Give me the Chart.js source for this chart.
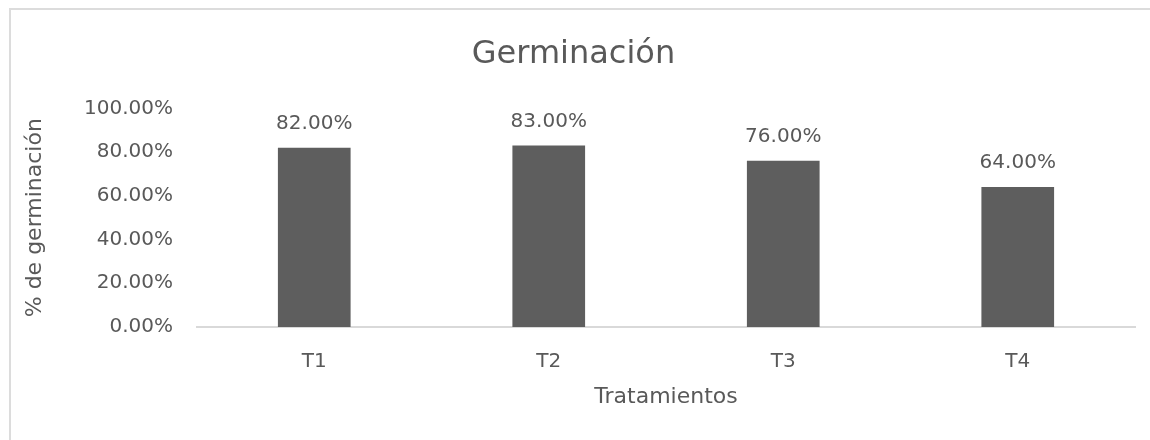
<!DOCTYPE html>
<html>
<head>
<meta charset="utf-8">
<script src="https://cdn.jsdelivr.net/npm/chart.js@4.4.0/dist/chart.umd.min.js"></script>
<style>
  html, body { margin: 0; padding: 0; background: #fff; overflow: hidden; }
  canvas { display: block; }
</style>
</head>
<body>
<canvas id="c" width="1150" height="440"></canvas>
<script>
const categories = ['T1', 'T2', 'T3', 'T4'];
const germinacion = [0.82, 0.83, 0.76, 0.64];
const yTicks = [0, 0.2, 0.4, 0.6, 0.8, 1.0];

const FONT = "'DejaVu Sans', sans-serif";
const TXT = '#595959';
const fmt = v => (v * 100).toFixed(2) + '%';

const frame = {
  id: 'frame',
  beforeDraw(chart) {
    const ctx = chart.ctx;
    ctx.save();
    ctx.fillStyle = '#ffffff';
    ctx.fillRect(0, 0, chart.width, chart.height);
    ctx.strokeStyle = '#dcdcdc';
    ctx.lineWidth = 2;
    ctx.strokeRect(10, 9, chart.width + 100, chart.height + 100);
    ctx.restore();
  }
};

const valueLabels = {
  id: 'valueLabels',
  afterDatasetsDraw(chart) {
    const ctx = chart.ctx;
    const meta = chart.getDatasetMeta(0);
    ctx.save();
    ctx.font = '20px ' + FONT;
    ctx.fillStyle = TXT;
    ctx.textAlign = 'center';
    ctx.textBaseline = 'middle';
    meta.data.forEach((bar, i) => {
      ctx.fillText(fmt(germinacion[i]), bar.x, bar.y - 24);
    });
    ctx.restore();
  }
};

new Chart(document.getElementById('c'), {
  type: 'bar',
  data: {
    labels: categories,
    datasets: [{
      label: 'Germinación',
      data: germinacion,
      backgroundColor: '#5e5e5e',
      borderWidth: 0,
      barPercentage: 0.31,
      categoryPercentage: 1.0
    }]
  },
  options: {
    responsive: false,
    animation: false,
    devicePixelRatio: 1,
    layout: { padding: { left: 12, right: 15, top: 0, bottom: 28 } },
    plugins: {
      legend: { display: false },
      tooltip: { enabled: false },
      title: {
        display: true,
        text: 'Germinación',
        color: TXT,
        font: { family: FONT, size: 32, weight: 'normal' },
        padding: { top: 35, bottom: 35 }
      }
    },
    scales: {
      x: {
        grid: { display: false, drawTicks: false },
        border: { display: true, color: '#d9d9d9', width: 2 },
        ticks: { color: TXT, font: { family: FONT, size: 20 }, padding: 23 },
        title: {
          display: true,
          text: 'Tratamientos',
          color: TXT,
          font: { family: FONT, size: 22 },
          padding: { top: 10, bottom: 2 }
        },
        afterFit(scale) { scale.height = 85; }
      },
      y: {
        min: 0,
        max: 1,
        afterBuildTicks(scale) { scale.ticks = yTicks.map(v => ({ value: v })); },
        grid: { display: false, drawTicks: false },
        border: { display: false },
        ticks: { color: TXT, font: { family: FONT, size: 20 }, padding: 24, callback: v => fmt(v) },
        title: {
          display: true,
          text: '% de germinación',
          color: TXT,
          font: { family: FONT, size: 22 },
          padding: { top: 10, bottom: 0 }
        },
        afterFit(scale) { scale.width = 197 - 12; }
      }
    }
  },
  plugins: [frame, valueLabels]
});
</script>
</body>
</html>
